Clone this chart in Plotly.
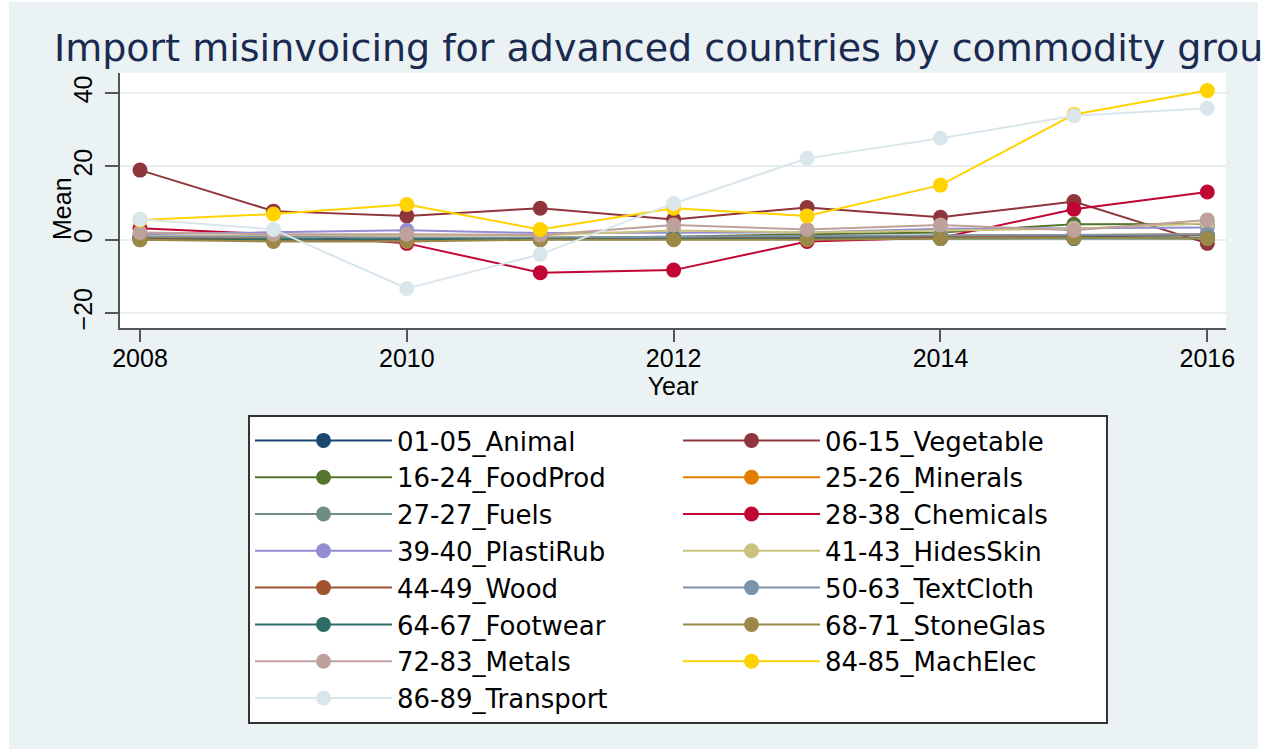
import plotly.graph_objects as go

years = [2008, 2009, 2010, 2011, 2012, 2013, 2014, 2015, 2016]

groups = ['01-05_Animal', '06-15_Vegetable', '16-24_FoodProd', '25-26_Minerals',
          '27-27_Fuels', '28-38_Chemicals', '39-40_PlastiRub', '41-43_HidesSkin',
          '44-49_Wood', '50-63_TextCloth', '64-67_Footwear', '68-71_StoneGlas',
          '72-83_Metals', '84-85_MachElec', '86-89_Transport']

animal = [0.5, 0.3, 0.2, 0.3, 0.5, 0.5, 0.5, 0.8, 0.5]
vegetable = [19.0, 7.8, 6.5, 8.6, 5.5, 8.8, 6.1, 10.4, -1.0]
foodprod = [0.3, 0.2, 0.3, 0.5, 0.8, 1.5, 2.0, 4.2, 4.3]
minerals = [0.5, 0.5, 0.3, 0.5, 0.5, 0.8, 1.0, 1.2, 1.5]
fuels = [0.2, 0.2, 0.2, 0.3, 0.3, 0.5, 0.5, 0.5, 0.5]
chemicals = [3.1, 1.5, -1.0, -9.0, -8.3, -0.5, 0.5, 8.3, 13.0]
plastirub = [1.5, 2.0, 2.6, 1.8, 1.8, 2.0, 3.0, 3.2, 3.3]
hidesskin = [1.0, 1.0, 1.0, 1.2, 2.5, 2.0, 2.5, 3.0, 4.5]
wood = [0.5, 0.0, 0.0, 0.3, 0.5, 0.7, 1.0, 1.2, 1.3]
textcloth = [0.8, 0.8, 0.5, 0.5, 0.8, 1.0, 1.2, 1.3, 1.5]
footwear = [0.0, 0.0, 0.0, 0.0, 0.2, 0.3, 0.3, 0.3, 0.3]
stoneglas = [0.0, -0.5, -0.5, 0.0, 0.0, 0.0, 0.3, 0.5, 0.3]
metals = [2.0, 1.5, 1.5, 1.3, 4.0, 2.8, 4.0, 2.6, 5.4]
machelec = [5.4, 7.0, 9.6, 2.8, 8.6, 6.5, 14.9, 34.2, 40.7]
transport = [5.6, 2.8, -13.3, -4.0, 9.9, 22.2, 27.7, 33.8, 35.9]

series = [animal, vegetable, foodprod, minerals, fuels, chemicals, plastirub,
          hidesskin, wood, textcloth, footwear, stoneglas, metals, machelec, transport]

# Stata s2color palette
colors = ['#1A476F', '#90353B', '#55752F', '#E37E00', '#6E8E84', '#C10534',
          '#938DD2', '#CAC27E', '#A0522D', '#7B92A8', '#2D6D66', '#9C8847',
          '#BFA19C', '#FFD200', '#D9E6EB']

W, H = 1265, 749
ml, mr, mt, mb = 120, 39, 73, 421
pw, ph = W - ml - mr, H - mt - mb

def px(x):
    return (x - ml) / pw

def py(y):
    return (H - mb - y) / ph

fig = go.Figure()
for name, vals, c in zip(groups, series, colors):
    fig.add_trace(go.Scatter(
        x=years, y=vals, name=name, mode='lines+markers',
        line=dict(color=c, width=2),
        marker=dict(color=c, size=15),
    ))

# white strips around Stata graph region
for x0, y0, x1, y1 in [(0, 0, 9, H), (0, 0, W, 2), (1258, 0, W, H)]:
    fig.add_shape(type='rect', xref='paper', yref='paper', layer='below',
                  x0=px(x0), x1=px(x1), y0=py(y1), y1=py(y0),
                  fillcolor='white', line=dict(width=0))

fig.add_annotation(text='Import misinvoicing for advanced countries by commodity group',
                   xref='paper', yref='paper', x=px(52), y=py(48),
                   xanchor='left', yanchor='middle', showarrow=False,
                   font=dict(family='DejaVu Sans', size=38, color='#1A2A50'))

fig.add_annotation(text='Mean', xref='paper', yref='paper', x=px(62), y=py(209),
                   textangle=-90, showarrow=False, xanchor='center', yanchor='middle',
                   font=dict(family='Liberation Sans', size=25, color='black'))

fig.update_layout(
    width=W, height=H,
    margin=dict(l=ml, r=mr, t=mt, b=mb, autoexpand=False),
    paper_bgcolor='#EAF2F3',
    plot_bgcolor='white',
    font=dict(family='Liberation Sans', color='black'),
    showlegend=True,
    legend=dict(
        orientation='h', x=px(248), y=py(415), xanchor='left', yanchor='top',
        entrywidth=276, entrywidthmode='pixels', itemwidth=137, maxheight=340,
        bgcolor='white', bordercolor='#333333', borderwidth=2,
        font=dict(family='DejaVu Sans', size=26, color='black'),
        traceorder='normal',
    ),
    xaxis=dict(
        range=[2007.85, 2016.14], tickvals=[2008, 2010, 2012, 2014, 2016],
        showgrid=False, zeroline=False, showline=True, linecolor='#555555', linewidth=2,
        ticks='outside', ticklen=12, tickwidth=2, tickcolor='#555555', automargin=False,
        tickfont=dict(size=25), ticklabelstandoff=-5,
        title=dict(text='Year', font=dict(size=25), standoff=2),
    ),
    yaxis=dict(
        range=[-24.1, 45.5], tickvals=[-20, 0, 20, 40], automargin=False,
        showgrid=True, gridcolor='#E6EEF0', gridwidth=2, zeroline=False,
        showline=True, linecolor='#555555', linewidth=2,
        ticks='outside', ticklen=13, tickwidth=2, tickcolor='#555555',
        tickangle=-90, tickfont=dict(size=25), ticklabelstandoff=3,
    ),
)

fig.write_html('out.html', config={'displayModeBar': False},
               post_script="document.body.style.margin='0';")
